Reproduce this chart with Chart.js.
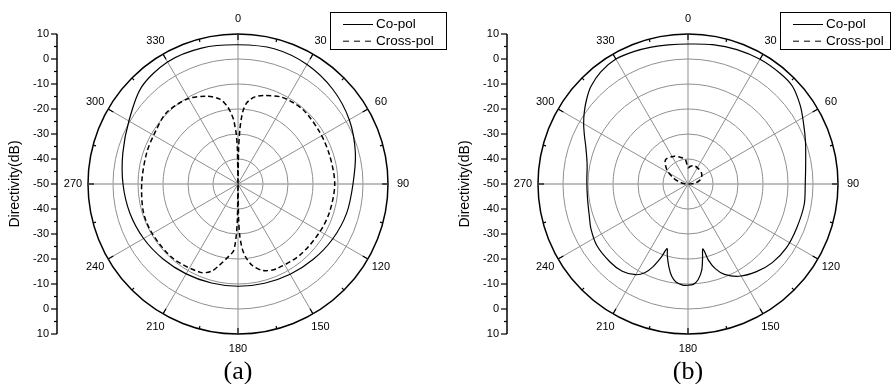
<!DOCTYPE html>
<html><head><meta charset="utf-8">
<script src="https://cdn.jsdelivr.net/npm/chart.js@4.4.0/dist/chart.umd.min.js"></script>
<style>
html,body{margin:0;padding:0;background:#fff;}
#wrap{position:relative;width:891px;height:384px;overflow:hidden;background:#fff;}
#wrap canvas{position:absolute;left:0;top:0;}
.cap{position:absolute;top:358px;width:100px;text-align:center;font:26px/26px "Liberation Serif","Times New Roman",serif;color:#000;}
</style></head><body>
<div id="wrap">
<canvas id="ca" width="891" height="384"></canvas>
<canvas id="cb" width="891" height="384"></canvas>
<div class="cap" style="left:188px">(a)</div>
<div class="cap" style="left:638px">(b)</div>
</div>
<script>
// ---------- data (angle in degrees, directivity in dB) ----------
const angleTickLabels = ['0','30','60','90','120','150','180','210','240','270','300','330'];
const radialTickValues = [10, 0, -10, -20, -30, -40, -50];
const rMin = -50, rMax = 10;
const seriesNames = ['Co-pol', 'Cross-pol'];

const coPolA = [[0,5.7],[15,6.0],[30,5.2],[45,3.6],[60,1.4],[75,-1.4],[90,-4.0],[105,-5.0],[120,-6.2],[135,-7.4],[150,-8.3],[165,-8.9],[180,-9.1],[195,-9.0],[210,-8.5],[225,-7.6],[240,-6.4],[255,-5.2],[270,-4.0],[285,-2.3],[300,0.4],[315,4.7],[330,6.4],[345,6.3]];

const crossPolA = [[0,-50],[1,-36],[2,-28],[3,-23.5],[4,-20.5],[6,-17.5],[8,-16],[11,-14.5],[16,-13.2],[27,-11.1],[41,-10.5],[58,-11.3],[73,-11.6],[90,-11.3],[107,-11.7],[121,-12.1],[139,-12.3],[156,-12.8],[164,-14],[170,-16.9],[174,-20.6],[176,-23.5],[177,-26],[178,-29],[179,-36],[180,-50],[181,-36],[182,-29],[183,-25],[184,-23],[187,-21],[193,-16.6],[197,-13.5],[203,-11.6],[221,-10.5],[239,-10.4],[253,-10.5],[271,-11.5],[289,-11.4],[302,-10.9],[315,-9.6],[329,-10.4],[340,-12.6],[348,-15.3],[352,-18.5],[354,-21],[356,-24],[357,-27],[358,-30],[359,-36]];

const coPolB = [[0,6.0],[10,6.6],[20,7.2],[30,7.6],[40,7.6],[47,7.2],[55,4.8],[62,2.3],[70,0],[80,-2.2],[90,-3.1],[100,-2.8],[112,-3.1],[123,-3.1],[133,-3.9],[142,-5.5],[151,-7.8],[158,-11],[162,-14.3],[165,-18.5],[167,-23.4],[169,-19.5],[171,-15],[174,-11.5],[177,-9.8],[180,-9.5],[183,-9.5],[187,-10.5],[190,-12.5],[193,-16],[196,-20],[198,-22.8],[200,-19],[203,-14],[206,-10.5],[210,-8.1],[217,-6.3],[225,-5.9],[236,-6.0],[245,-7.2],[252,-8.5],[262,-9.4],[272,-9.5],[281,-8.9],[290,-6.5],[295,-4.3],[300,-1.8],[305,0.6],[310,2.9],[315,5.0],[322,6.8],[330,7.7],[338,7.2],[345,6.7],[352,6.2]];

const crossPolB = [[0,-43.5],[8,-42.8],[20,-42.3],[35,-42.6],[50,-43],[62,-43.8],[72,-45],[82,-47],[92,-49.5],[100,-50],[260,-50],[275,-48.5],[285,-46],[293,-43.5],[304,-39.8],[317,-36.8],[332,-37.5],[345,-39],[354,-40.2]];

// ---------- helpers ----------
const degrees = Array.from({length: 360}, (_, i) => i);
function toSeries(pairs) {
  const arr = new Array(360).fill(null);
  pairs.forEach(([d, v]) => { arr[d % 360] = v; });
  return arr;
}
const FONT = '"Liberation Sans", Arial, Helvetica, sans-serif';
const GRAY = '#8f8f8f';

const polarDecor = {
  id: 'polarDecor',
  afterDraw(chart, args, opts) {
    const ctx = chart.ctx, s = chart.scales.r;
    const cx = s.xCenter, cy = s.yCenter;
    const R = s.getDistanceFromCenterForValue(rMax);
    ctx.save();
    // ticks on outer circle
    ctx.strokeStyle = '#000';
    ctx.lineWidth = 1.2;
    for (let a = 0; a < 360; a += 15) {
      const len = a % 30 === 0 ? 6 : 3;
      const p1 = s.getPointPosition(a, R), p2 = s.getPointPosition(a, R - len);
      ctx.beginPath(); ctx.moveTo(p1.x, p1.y); ctx.lineTo(p2.x, p2.y); ctx.stroke();
    }
    // angle labels
    ctx.fillStyle = '#000';
    ctx.font = '11px ' + FONT;
    ctx.textAlign = 'center';
    ctx.textBaseline = 'middle';
    angleTickLabels.forEach(lbl => {
      const p = s.getPointPosition(+lbl, R + 15);
      ctx.fillText(lbl, p.x, p.y);
    });
    // left linear axis
    const ax = opts.axisX;
    ctx.lineWidth = 1.5;
    ctx.beginPath(); ctx.moveTo(ax, cy - R); ctx.lineTo(ax, cy + R); ctx.stroke();
    ctx.lineWidth = 1.2;
    ctx.textAlign = 'right';
    radialTickValues.forEach(v => {
      const d = s.getDistanceFromCenterForValue(v);
      const ys = d === 0 ? [cy] : [cy - d, cy + d];
      ys.forEach(y => {
        ctx.beginPath(); ctx.moveTo(ax - 6, y); ctx.lineTo(ax, y); ctx.stroke();
        ctx.fillText(String(v), ax - 8, y);
      });
      if (v > rMin) {
        const dm = s.getDistanceFromCenterForValue(v - 5);
        [cy - dm, cy + dm].forEach(y => {
          ctx.beginPath(); ctx.moveTo(ax - 3, y); ctx.lineTo(ax, y); ctx.stroke();
        });
      }
    });
    // axis title
    ctx.save();
    ctx.translate(opts.titleX, cy);
    ctx.rotate(-Math.PI / 2);
    ctx.textAlign = 'center';
    ctx.font = '14px ' + FONT;
    ctx.fillText('Directivity(dB)', 0, 0);
    ctx.restore();
    // legend box
    const [bx, by, bw, bh] = opts.box;
    ctx.lineWidth = 1;
    ctx.setLineDash([]);
    ctx.strokeRect(bx + 0.5, by + 0.5, bw, bh);
    ctx.font = '13.5px ' + FONT;
    ctx.textAlign = 'left';
    chart.data.datasets.forEach((ds, i) => {
      const y = by + 12.5 + i * 16.7;
      ctx.setLineDash(i === 0 ? [] : [6, 5]);
      ctx.beginPath(); ctx.moveTo(bx + 13, y); ctx.lineTo(bx + 43, y); ctx.stroke();
      ctx.setLineDash([]);
      ctx.fillText(ds.label, bx + 46, y);
    });
    ctx.restore();
  }
};

function makeChart(id, co, cross, pad, deco) {
  return new Chart(document.getElementById(id), {
    type: 'radar',
    data: {
      labels: degrees,
      datasets: [
        { label: seriesNames[0], data: toSeries(co), borderColor: '#000', borderWidth: 1.2, tension: 0.3, spanGaps: true, pointRadius: 0, fill: false },
        { label: seriesNames[1], data: toSeries(cross), borderColor: '#000', borderWidth: 1.5, borderDash: [5, 3], tension: 0.3, spanGaps: true, pointRadius: 0, fill: false }
      ]
    },
    options: {
      responsive: false,
      animation: false,
      events: [],
      layout: { padding: pad },
      plugins: { legend: { display: false }, tooltip: { enabled: false }, polarDecor: deco },
      scales: {
        r: {
          min: rMin, max: rMax,
          ticks: { display: false, stepSize: 10 },
          pointLabels: { display: false },
          grid: {
            circular: true,
            color: c => c.tick && c.tick.value === rMax ? '#000' : GRAY,
            lineWidth: c => c.tick && c.tick.value === rMin ? 0 : (c.tick && c.tick.value === rMax ? 1.5 : 1)
          },
          angleLines: {
            display: true,
            color: c => (c.index % 180 === 90) ? '#a8a8a8' : GRAY,
            lineWidth: c => c.index % 30 === 0 ? (c.index % 180 === 90 ? 1.6 : 1) : 0
          }
        }
      }
    },
    plugins: [polarDecor]
  });
}

makeChart('ca', coPolA, crossPolA, { left: 88, top: 34, right: 503, bottom: 50 },
  { axisX: 57, titleX: 15, box: [330, 12, 116, 37] });
makeChart('cb', coPolB, crossPolB, { left: 538, top: 34, right: 53, bottom: 50 },
  { axisX: 507, titleX: 465, box: [780, 12, 110, 37] });
</script>
</body></html>
